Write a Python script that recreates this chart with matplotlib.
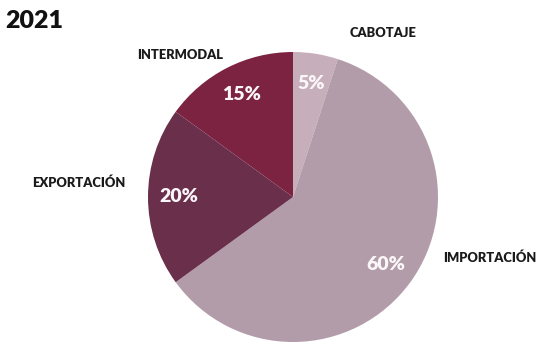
import matplotlib.pyplot as plt

# 2021 share by operation type
labels = ['CABOTAJE', 'IMPORTACIÓN', 'EXPORTACIÓN', 'INTERMODAL']
shares = [5, 60, 20, 15]
colors = ['#c7aebb', '#b39ca9', '#6a2f4b', '#7c2341']

plt.rcParams['font.family'] = ['Lato', 'DejaVu Sans']

W, H = 538, 343
fig = plt.figure(figsize=(W / 100, H / 100), dpi=100)
ax = fig.add_axes([0, 0, 1, 1])

# pie in pixel units, first slice starting at 12 o'clock going clockwise
wedges, texts, autotexts = ax.pie(
    shares, colors=colors, startangle=90, counterclock=False,
    center=(293, H - 197), radius=145, frame=True,
    autopct=lambda p: f'{p:.0f}%', pctdistance=0.79,
    wedgeprops=dict(linewidth=0),
    textprops=dict(color='#fbf7f9', fontsize=14, fontweight='heavy'))
ax.set_xlim(0, W)
ax.set_ylim(0, H)
ax.set_aspect('equal')
ax.axis('off')

# outer category labels
label_pos = {
    'CABOTAJE': (383, 33, 'center'),
    'IMPORTACIÓN': (536, 258, 'right'),
    'EXPORTACIÓN': (79, 183, 'center'),
    'INTERMODAL': (180, 55, 'center'),
}
for name, (x, y, ha) in label_pos.items():
    ax.text(x, H - y, name, ha=ha, va='center', fontsize=9.3,
            fontweight='heavy', color='#1a1a1a')

ax.text(5, H - 21, '2021', ha='left', va='center', fontsize=18,
        fontweight='heavy', color='#111111')

fig.savefig('out.png', dpi=100)
